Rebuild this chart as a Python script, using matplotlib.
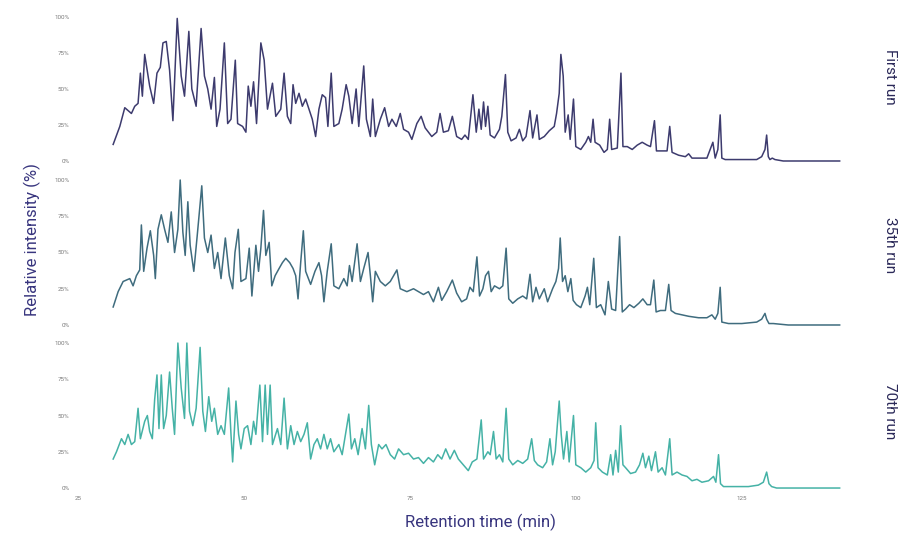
import numpy as np
from matplotlib import pyplot as plt

# retention time (min) and relative intensity (%)
first_t = [30.3, 31.3, 32.05, 33.05, 33.55, 34.05, 34.4, 34.7, 35.05, 35.8, 36.4, 36.9, 37.4, 37.8, 38.3, 38.8,
           39.3, 39.95, 40.55, 41.05, 41.7, 42.15, 42.8, 43.15, 43.55, 44.05, 44.55, 45.05, 45.55, 45.9, 46.4,
           47.05, 47.55, 48.05, 48.7, 49.05, 49.8, 50.3, 50.65, 51.05, 51.45, 51.9, 52.55, 53.05, 53.55, 54.3,
           54.8, 55.55, 56.05, 56.55, 57.05, 57.4, 57.8, 58.3, 58.8, 59.3, 59.8, 60.3, 60.8, 61.3, 61.8, 62.3,
           62.65, 63.15, 63.55, 64.3, 64.8, 65.4, 65.8, 66.3, 66.9, 67.3, 68.05, 68.45, 69.05, 69.4, 69.8, 70.55,
           71.2, 71.8, 72.3, 72.95, 73.55, 74.05, 74.8, 75.3, 76.05, 76.7, 77.3, 78.3, 79.05, 79.55, 80.05, 80.8,
           81.4, 82.05, 82.8, 83.3, 83.8, 84.5, 85.0, 85.4, 85.75, 86.1, 86.4, 86.75, 87.1, 87.75, 88.5, 88.85,
           89.4, 89.75, 90.25, 91.0, 91.5, 92.0, 92.5, 93.1, 93.5, 94.15, 94.5, 95.25, 96.0, 96.75, 97.1, 97.5,
           97.75, 98.1, 98.4, 98.85, 99.15, 99.65, 100.0, 100.75, 101.5, 101.9, 102.25, 102.6, 102.9, 103.6,
           104.25, 104.75, 105.1, 105.4, 106.25, 106.8, 107.1, 107.75, 108.5, 109.25, 110.0, 110.75, 111.25,
           111.85, 112.15, 113.0, 113.75, 114.15, 114.5, 115.5, 116.5, 117.0, 117.5, 119.0, 119.75, 120.25,
           120.65, 121.0, 121.4, 121.75, 122.0, 122.5, 124.0, 125.5, 127.25, 128.0, 128.5, 128.75, 129.0,
           129.25, 129.6, 130.0, 131.25, 134.0, 139.75]
first_y = [11.5, 24, 37, 33, 38, 40, 61, 45, 74, 52, 40, 61, 65, 82, 83, 63,
           28, 99, 59, 45, 90, 50, 38, 63, 92, 59, 50, 36, 58, 24, 36,
           82, 26, 29, 70, 26, 24, 20, 52, 38, 55, 26, 82, 70, 36, 54,
           31, 36, 61, 31, 26, 53, 40, 47, 38, 43, 36, 29, 17, 36, 46, 44,
           24, 61, 24, 26, 36, 53, 45, 26, 50, 24, 66, 29, 17, 43, 17, 29,
           37, 24, 29, 24, 33, 22, 20, 15, 26, 31, 23, 17, 20, 33, 20, 21,
           31, 17, 15, 18, 15, 46, 20, 36, 22, 41, 24, 38, 18, 16, 22, 31,
           60, 20, 14, 16, 22, 14, 17, 35, 16, 32, 15, 17, 21, 24, 33, 47,
           74, 59, 20, 32, 15, 43, 10, 8, 13, 17, 13, 29, 13, 11,
           6, 8, 29, 8, 9, 61, 10, 10, 8, 11, 13, 11, 10,
           28, 7, 7, 7, 24, 6, 4, 3, 5, 2, 2, 2, 8,
           13, 2, 8, 32, 2, 1, 1, 1, 1, 3, 8, 18, 3,
           1, 2, 1, 0, 0, 0]

run35_t = [30.3, 31.05, 31.8, 32.8, 33.3, 33.8, 34.3, 34.55, 34.9, 35.4, 35.9, 36.4, 36.65, 37.05, 37.55, 38.05,
           38.55, 39.05, 39.55, 40.05, 40.4, 40.8, 41.15, 41.55, 41.9, 42.45, 42.95, 43.65, 44.05, 44.55, 45.05,
           45.55, 46.05, 46.55, 47.2, 47.8, 48.3, 48.65, 49.15, 49.55, 50.3, 50.8, 51.2, 51.8, 52.2, 52.55, 52.95,
           53.3, 53.8, 54.2, 54.7, 55.3, 55.8, 56.3, 56.9, 57.4, 57.8, 58.15, 58.55, 58.95, 59.3, 60.05, 60.7,
           61.3, 61.7, 62.05, 62.55, 63.15, 63.55, 64.3, 65.05, 65.55, 65.9, 66.3, 67.05, 67.55, 68.05, 68.7,
           69.05, 69.4, 69.8, 70.55, 71.3, 72.05, 73.05, 73.55, 74.55, 75.55, 76.3, 77.05, 77.8, 78.55, 79.3,
           79.8, 80.55, 81.4, 82.05, 82.8, 83.55, 84.05, 84.55, 85.1, 85.5, 86.0, 86.4, 86.85, 87.25, 87.75,
           88.5, 89.0, 89.5, 89.9, 90.5, 91.25, 92.0, 92.6, 93.1, 93.5, 94.0, 94.5, 95.25, 95.75, 96.5, 97.0,
           97.4, 97.65, 98.0, 98.4, 98.8, 99.25, 99.6, 100.1, 100.75, 101.4, 101.75, 102.1, 102.7, 103.1,
           103.75, 104.4, 104.9, 105.4, 106.0, 106.6, 107.0, 107.5, 108.1, 108.75, 109.5, 110.1, 110.75, 111.25,
           111.75, 112.1, 112.75, 113.5, 114.0, 114.35, 115.0, 116.0, 117.0, 118.5, 119.75, 120.5, 121.0, 121.4,
           121.75, 122.0, 123.0, 125.0, 127.25, 128.0, 128.5, 128.75, 129.1, 129.75, 132.0, 139.75]
run35_y = [12.4, 23, 30, 32, 27, 34, 38, 69, 37, 53, 65, 48, 32, 66, 76, 66,
           57, 78, 50, 66, 100, 64, 48, 85, 55, 37, 61, 96, 60, 50, 62,
           39, 50, 32, 60, 34, 25, 50, 66, 30, 32, 53, 20, 55, 37, 53, 79,
           48, 57, 27, 34, 39, 43, 46, 43, 39, 34, 18, 43, 65, 37, 28, 37,
           43, 34, 16, 37, 56, 27, 25, 32, 27, 41, 30, 56, 30, 39, 50,
           34, 16, 37, 30, 27, 30, 38, 25, 23, 25, 23, 21, 23, 16, 26,
           17, 23, 31, 22, 16, 18, 26, 23, 47, 20, 25, 34, 37, 23, 27,
           25, 27, 53, 18, 15, 18, 20, 18, 35, 16, 26, 18, 25, 16, 25, 30,
           39, 60, 30, 34, 23, 32, 17, 14, 12, 20, 26, 14, 46, 12,
           14, 7, 30, 11, 10, 61, 9, 11, 14, 12, 15, 18, 14, 14,
           31, 9, 10, 10, 28, 10, 8, 7, 6, 5, 5, 7, 4, 8,
           26, 2, 1, 1, 2, 4, 8, 4, 1, 1, 0, 0]

run70_t = [30.3, 30.8, 31.55, 32.05, 32.55, 33.05, 33.55, 34.05, 34.4, 35.05, 35.45, 35.8, 36.2, 36.55, 36.9, 37.2,
           37.55, 37.9, 38.3, 38.8, 39.2, 39.55, 40.05, 40.55, 41.05, 41.4, 41.8, 42.3, 42.8, 43.4, 43.8, 44.2,
           44.7, 45.15, 45.55, 46.05, 46.55, 47.05, 47.7, 48.05, 48.3, 48.8, 49.2, 49.55, 50.05, 50.55, 51.05,
           51.45, 51.8, 52.4, 52.8, 53.2, 53.55, 53.95, 54.3, 55.05, 55.55, 56.05, 56.55, 57.05, 57.55, 58.05,
           58.55, 59.05, 59.55, 60.05, 60.55, 61.05, 61.55, 62.05, 62.55, 63.05, 63.55, 64.3, 64.8, 65.3, 65.8,
           66.2, 66.7, 67.2, 67.8, 68.3, 68.8, 69.2, 69.7, 70.3, 70.8, 71.4, 72.05, 72.7, 73.3, 74.05, 74.8,
           75.55, 76.3, 77.05, 77.8, 78.55, 79.2, 79.8, 80.4, 81.05, 81.7, 82.3, 83.05, 83.8, 84.4, 85.1, 85.75,
           86.1, 86.75, 87.1, 87.6, 88.0, 88.5, 89.0, 89.5, 89.9, 90.5, 91.25, 92.0, 92.75, 93.35, 93.75, 94.25,
           95.0, 95.6, 96.1, 96.5, 96.9, 97.25, 97.5, 97.8, 98.15, 98.65, 99.0, 99.65, 100.0, 100.75, 101.5,
           102.25, 102.75, 103.0, 103.35, 104.0, 104.75, 105.25, 105.6, 106.0, 106.4, 106.75, 107.1, 107.5,
           108.25, 109.0, 109.6, 110.1, 110.5, 111.0, 111.4, 112.0, 112.4, 113.0, 113.5, 114.15, 114.5, 115.25,
           116.0, 116.75, 117.5, 118.25, 119.0, 120.0, 120.75, 121.1, 121.5, 121.8, 122.25, 124.0, 126.0, 127.5,
           128.25, 128.75, 129.1, 129.5, 130.25, 134.0, 139.75]
run70_y = [20, 25, 34, 30, 37, 30, 32, 55, 34, 46, 50, 39, 34, 61, 78, 41,
           78, 41, 50, 80, 55, 37, 100, 69, 48, 100, 53, 43, 55, 97, 53, 39,
           63, 46, 55, 37, 43, 37, 69, 37, 18, 60, 37, 27, 41, 43, 30,
           46, 37, 71, 32, 71, 37, 71, 30, 41, 30, 62, 27, 43, 30, 39,
           32, 37, 45, 20, 30, 34, 27, 37, 27, 34, 25, 30, 23, 37, 51,
           27, 34, 23, 41, 27, 57, 30, 16, 30, 27, 30, 23, 20, 27, 23, 24,
           20, 21, 17, 21, 18, 23, 20, 27, 20, 26, 20, 16, 12, 18, 20, 47,
           20, 25, 23, 39, 20, 23, 18, 55, 20, 16, 19, 17, 20, 34, 19, 16,
           14, 18, 34, 16, 25, 46, 60, 37, 20, 39, 18, 50, 16, 14, 11,
           14, 19, 45, 14, 11, 9, 23, 9, 26, 11, 43, 16, 14,
           10, 11, 16, 24, 14, 22, 12, 25, 11, 14, 9, 34, 9, 11,
           9, 8, 5, 6, 4, 5, 8, 4, 23, 3, 1, 1, 1, 2,
           4, 11, 3, 1, 0, 0, 0]

runs = [(first_t, first_y), (run35_t, run35_y), (run70_t, run70_y)]
run_names = ['First run', '35th run', '70th run']
colors = ['#3d3b6e', '#3f6c7e', '#45b2a6']

y_ticks = [0, 25, 50, 75, 100]
y_tick_labels = ['0%', '25%', '50%', '75%', '100%']
x_ticks = [25, 50, 75, 100, 125]

fig = plt.figure(figsize=(9.24, 5.37), dpi=100)
plt.rcParams['font.family'] = ['Roboto', 'DejaVu Sans']

# panel rectangles in figure fractions
bottoms = [0.7002, 0.3948, 0.0912]
heights = [0.2682, 0.2700, 0.2700]
label_y = [0.857, 0.544, 0.235]

for i in range(3):
    ax = fig.add_axes([0.0844, bottoms[i], 0.8333, heights[i]])
    t, y = runs[i]
    ax.plot(t, y, color=colors[i], linewidth=1.1, clip_on=False)
    ax.set_xlim(25, 141)
    ax.set_ylim(0, 100)
    for s in ax.spines.values():
        s.set_visible(False)
    ax.set_yticks(y_ticks)
    ax.set_yticklabels(y_tick_labels)
    ax.set_xticks(x_ticks)
    if i == 2:
        ax.set_xticklabels([str(v) for v in x_ticks])
    else:
        ax.set_xticklabels([])
    ax.tick_params(length=0, labelsize=4.5, labelcolor='#7a7a7a', pad=6)
    ax.patch.set_visible(False)
    fig.text(0.963, label_y[i], run_names[i], rotation=270, ha='center', va='center',
             fontsize=11, color='#2a2858')

fig.text(0.035, 0.553, 'Relative intensity (%)', rotation=90, ha='center', va='center',
         fontsize=12, color='#38357e')
fig.text(0.52, 0.028, 'Retention time (min)', ha='center', va='center',
         fontsize=12, color='#38357e')

plt.savefig('out.png', dpi=100)
